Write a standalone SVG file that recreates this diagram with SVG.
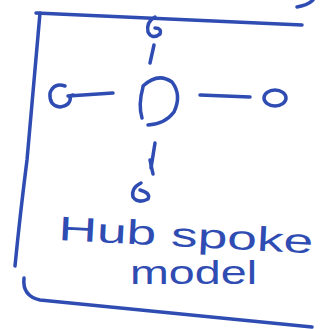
<svg xmlns="http://www.w3.org/2000/svg" width="325" height="329" viewBox="0 0 325 329">
<style>
.ink{fill:none;stroke:#2f4cb3;stroke-width:3.5;stroke-linecap:round;stroke-linejoin:round}
.lbl{fill:#2f4cb3;font-family:"Liberation Sans",Arial,sans-serif;font-size:34px}
</style>
<rect width="325" height="329" fill="#ffffff"/>
<g id="frame">
<path class="ink" d="M36 13 L302 25"/>
<path class="ink" d="M40 13 Q33 90 27 160 Q20 215 15 266"/>
<path class="ink" d="M24 278 Q22 296 40 300 L312 327"/>
<path class="ink" d="M297 7 Q308 5 313 0"/>
</g>
<g id="connectors">
<path class="ink" d="M154 45 L150 63"/>
<path class="ink" d="M68 96 L113 93"/>
<path class="ink" d="M200 95 L250 97"/>
<path class="ink" d="M155 143 L151 168"/>
</g>
<g id="hub">
<path class="ink" d="M143 87 Q138 105 142 118 M143 86 Q158 72 172 82 Q182 95 174 112 Q165 124 148 125"/>
</g>
<g id="spoke-top">
<path class="ink" d="M155 17 Q146 22 148 32 Q152 40 160 34 Q162 28 155 28"/>
</g>
<g id="spoke-left">
<path class="ink" d="M65 86 Q54 82 50 93 Q49 106 60 107 Q72 105 70 96 L73 95"/>
</g>
<g id="spoke-right">
<ellipse class="ink" cx="275" cy="98" rx="11" ry="8"/>
</g>
<g id="spoke-bottom">
<path class="ink" d="M150 160 L153 174"/>
<path class="ink" d="M141 183 Q131 188 133 197 Q138 204 148 199 Q151 193 140 190"/>
</g>
<g id="label">
<text class="lbl" x="58" y="240" textLength="255" lengthAdjust="spacingAndGlyphs" transform="rotate(3 58 240)">Hub spoke</text>
<text class="lbl" x="130" y="284" textLength="127" lengthAdjust="spacingAndGlyphs">model</text>
</g>
</svg>
